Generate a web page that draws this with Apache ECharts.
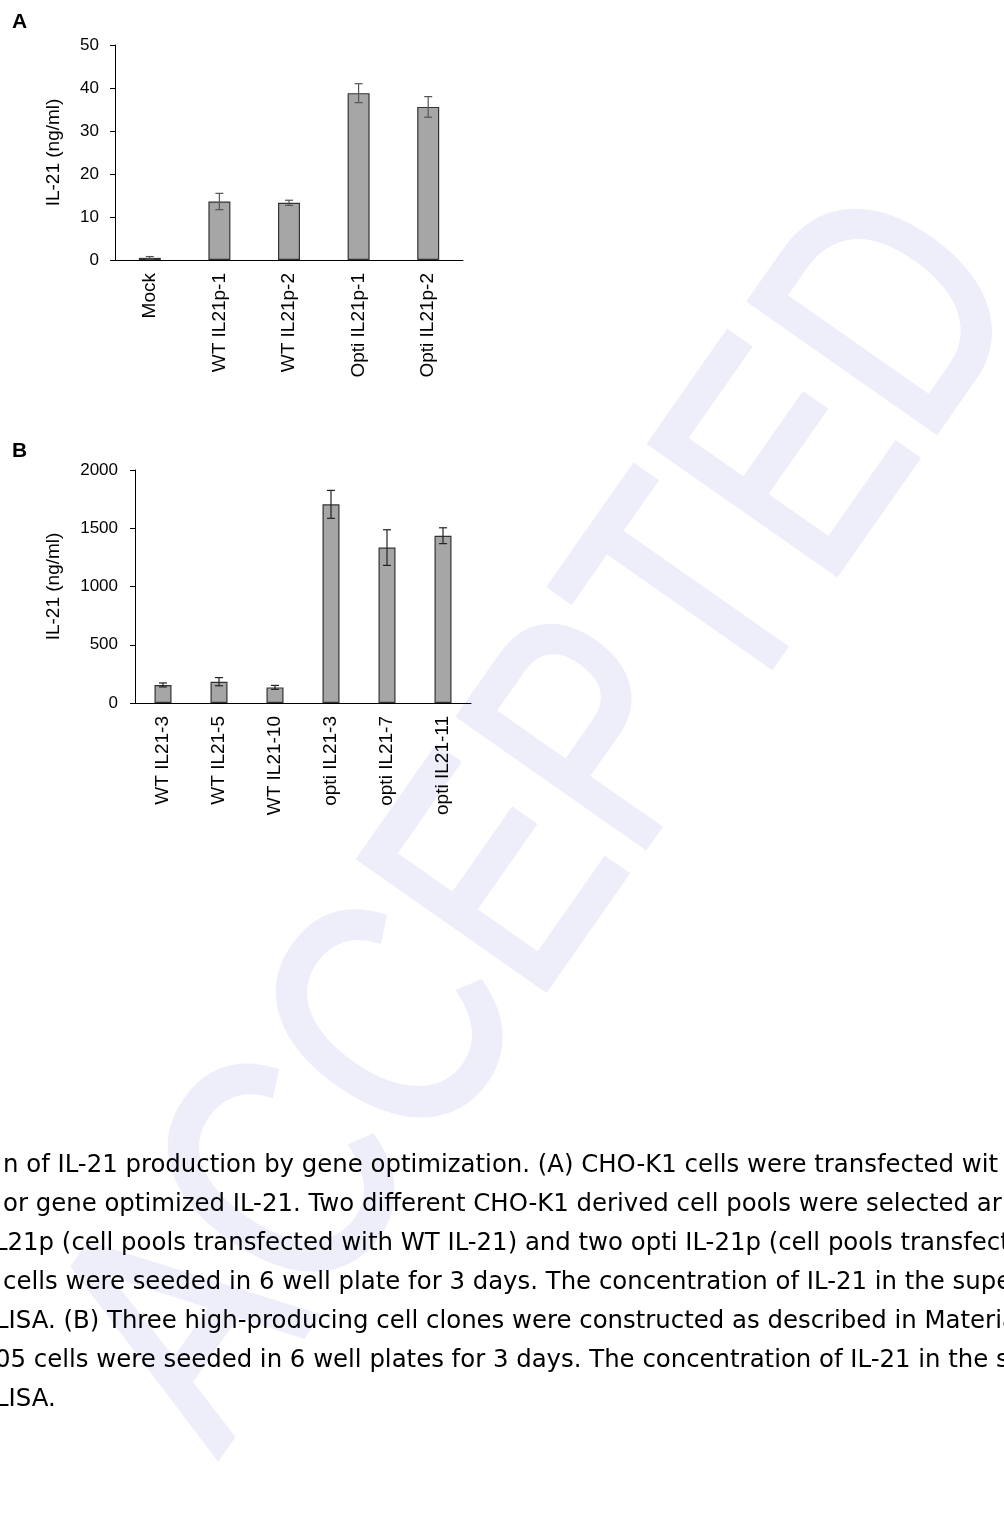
<!DOCTYPE html>
<html>
<head>
<meta charset="utf-8">
<script src="https://cdn.jsdelivr.net/npm/echarts@6/dist/echarts.min.js"></script>
<style>
  html, body { margin: 0; padding: 0; background: #fff; }
  #main { width: 1004px; height: 1521px; }
</style>
</head>
<body>
<div id="main"></div>
<script>
// panel A - cell pools
const catsA = ['Mock', 'WT IL21p-1', 'WT IL21p-2', 'Opti IL21p-1', 'Opti IL21p-2']
const valsA = [0.5, 13.6, 13.3, 38.8, 35.6]
const errA = [0.3, 1.9, 0.6, 2.2, 2.4]

// panel B - clones
const catsB = ['WT IL21-3', 'WT IL21-5', 'WT IL21-10', 'opti IL21-3', 'opti IL21-7', 'opti IL21-11']
const valsB = [155, 183, 134, 1705, 1334, 1436]
const errB = [17, 35, 17, 120, 153, 68]

const captionLines = [
  'n of IL-21 production by gene optimization. (A) CHO-K1 cells were transfected wit',
  'or gene optimized IL-21. Two different CHO-K1 derived cell pools were selected ar',
  'L21p (cell pools transfected with WT IL-21) and two opti IL-21p (cell pools transfect',
  'cells were seeded in 6 well plate for 3 days. The concentration of IL-21 in the supe',
  'LISA. (B) Three high-producing cell clones were constructed as described in Materia',
  '05 cells were seeded in 6 well plates for 3 days. The concentration of IL-21 in the s',
  'LISA.'
]
const captionX = [3, 3, -6, 3, -5, -5, -5]

const FONT = '"Liberation Sans", Arial, sans-serif'

const chart = echarts.init(document.getElementById('main'), null, { renderer: 'canvas' })

function xAxisOf(grid, cats) {
  return {
    gridIndex: grid,
    type: 'category',
    data: cats,
    axisLine: { lineStyle: { color: '#000', width: 1 } },
    axisTick: { inside: true, length: 5, lineStyle: { color: '#000' } },
    axisLabel: {
      rotate: 90,
      interval: 0,
      margin: 13,
      color: '#000',
      fontSize: 19,
      fontFamily: FONT
    },
    splitLine: { show: false }
  }
}

function yAxisOf(grid, max, interval, gap, labelMargin) {
  return {
    gridIndex: grid,
    type: 'value',
    min: 0,
    max: max,
    interval: interval,
    name: 'IL-21 (ng/ml)',
    nameLocation: 'middle',
    nameRotate: 90,
    nameGap: gap,
    nameTextStyle: { color: '#000', fontSize: 19, fontFamily: FONT },
    axisLine: { show: true, lineStyle: { color: '#000', width: 1 } },
    axisTick: { show: true, length: 5, lineStyle: { color: '#000' } },
    axisLabel: {
      margin: labelMargin,
      color: '#000',
      fontSize: 17,
      fontFamily: FONT,
      formatter: v => String(v)
    },
    splitLine: { show: false }
  }
}

/** error bars: vertical line + two caps */
function errorSeries(axis, cats, vals, errs, color) {
  return {
    type: 'custom',
    xAxisIndex: axis,
    yAxisIndex: axis,
    z: 5,
    data: cats.map((c, i) => [i, vals[i], errs[i]]),
    renderItem: function(params, api) {
      const i = api.value(0)
      const v = api.value(1)
      const e = api.value(2)
      const top = api.coord([i, v + e])
      const bot = api.coord([i, v - e])
      const half = 4
      const st = { stroke: color, lineWidth: 1.2 }
      return {
        type: 'group',
        children: [
          { type: 'line', shape: { x1: top[0], y1: top[1], x2: bot[0], y2: bot[1] }, style: st },
          { type: 'line', shape: { x1: top[0] - half, y1: top[1], x2: top[0] + half, y2: top[1] }, style: st },
          { type: 'line', shape: { x1: bot[0] - half, y1: bot[1], x2: bot[0] + half, y2: bot[1] }, style: st }
        ]
      }
    }
  }
}

const graphics = [
  // ACCEPTED watermark, behind everything
  {
    type: 'text',
    x: 550,
    y: 824,
    rotation: 55 * Math.PI / 180,
    scaleX: 0.79,
    z: -10,
    style: {
      text: 'ACCEPTED',
      font: '330px ' + FONT,
      fill: '#EEEEFB',
      stroke: '#EEEEFB',
      lineWidth: 6,
      align: 'center',
      verticalAlign: 'middle'
    }
  },
  {
    type: 'text', x: 12, y: 22, z: 50,
    style: { text: 'A', font: 'bold 21px ' + FONT, fill: '#000', verticalAlign: 'middle' }
  },
  {
    type: 'text', x: 12, y: 451, z: 50,
    style: { text: 'B', font: 'bold 21px ' + FONT, fill: '#000', verticalAlign: 'middle' }
  }
]

captionLines.forEach((line, i) => {
  graphics.push({
    type: 'text',
    x: captionX[i],
    y: 1166 + i * 39,
    z: 50,
    style: {
      text: line,
      font: '24.4px "DejaVu Sans", sans-serif',
      fill: '#000',
      verticalAlign: 'middle'
    }
  })
})

const option = {
  backgroundColor: '#fff',
  animation: false,
  grid: [
    { left: 115, top: 45, width: 348, height: 215 },
    { left: 135, top: 470, width: 336, height: 233 }
  ],
  xAxis: [xAxisOf(0, catsA), xAxisOf(1, catsB)],
  yAxis: [yAxisOf(0, 50, 10, 52, 16), yAxisOf(1, 2000, 500, 72, 17)],
  series: [
    {
      type: 'bar',
      xAxisIndex: 0,
      yAxisIndex: 0,
      data: valsA,
      barWidth: 22,
      itemStyle: { color: '#A6A6A6', borderColor: '#333', borderWidth: 1.2 }
    },
    errorSeries(0, catsA, valsA, errA, '#555'),
    {
      type: 'bar',
      xAxisIndex: 1,
      yAxisIndex: 1,
      data: valsB,
      barWidth: 17,
      itemStyle: { color: '#A6A6A6', borderColor: '#333', borderWidth: 1.2 }
    },
    errorSeries(1, catsB, valsB, errB, '#222')
  ],
  graphic: { elements: graphics }
}

chart.setOption(option)
</script>
</body>
</html>
